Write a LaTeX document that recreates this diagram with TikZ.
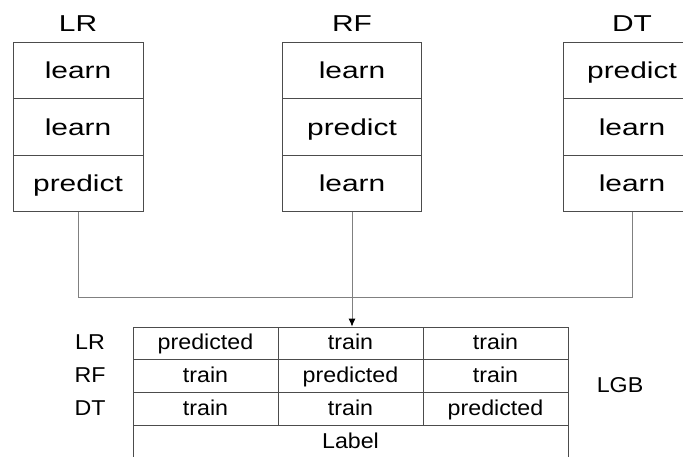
\documentclass[tikz,border=0pt]{standalone}
\usepackage{fontspec}
\setmainfont{Liberation Sans}
\newfontfamily\topfont{Liberation Sans}[FakeStretch=1.3]
\newfontfamily\tabfont{Liberation Sans}[FakeStretch=1.08]
\usetikzlibrary{arrows.meta}
\tikzset{%
  mycell/.style={draw=black!70, line width=0.8pt, minimum height=56.7pt, inner sep=0pt, text height=18pt, text depth=2pt, font=\topfont\fontsize{23}{23}\selectfont},
  mytitle/.style={inner sep=0pt, font=\topfont\fontsize{23}{23}\selectfont},
  mytab/.style={draw=black!70, line width=0.8pt, minimum width=145pt, minimum height=32.7pt, inner sep=0pt, text height=15pt, text depth=2pt, font=\tabfont\fontsize{21.5}{21.5}\selectfont},
  mylabel/.style={inner sep=0pt, text height=15pt, text depth=2pt, font=\tabfont\fontsize{21.5}{21.5}\selectfont},
  myedge/.style={draw=black!50, line width=0.8pt}
}

\begin{document}
\begin{tikzpicture}[x=1pt, y=-1pt]
  \useasboundingbox (0,0) rectangle (683,456);
  \clip (0,0) rectangle (683,456);

% three models, each with three folds
\foreach \name / \x / \w / \a / \b / \c in {LR/78/130/learn/learn/predict, RF/352/139/learn/predict/learn, DT/632/138/predict/learn/learn}{
  \node [mytitle] (t\name) at (\x, 24) {\name};
  \node [mycell, minimum width=\w pt] (\name1) at (\x, 70.5) {\a};
  \node [mycell, minimum width=\w pt] (\name2) at (\x, 127) {\b};
  \node [mycell, minimum width=\w pt] (\name3) at (\x, 183.5) {\c};
}

% stacked table
\foreach \r / \lab / \a / \b / \c in {1/LR/predicted/train/train, 2/RF/train/predicted/train, 3/DT/train/train/predicted}{
  \node [mylabel] (r\r) at (90, 327+32.7*\r-16.35) {\lab};
  \node [mytab] (T\r1) at (205.5, 327+32.7*\r-16.35) {\a};
  \node [mytab] (T\r2) at (350.5, 327+32.7*\r-16.35) {\b};
  \node [mytab] (T\r3) at (495.5, 327+32.7*\r-16.35) {\c};
}
\node [mytab, minimum width=435pt] (lab) at (350.5, 441.5) {Label};
\node [mylabel] (lgb) at (620, 386) {LGB};

% connectors
\coordinate (mid) at (0, 297);
\draw [myedge] (LR3.south) -- (LR3.south |- mid) -- (DT3.south |- mid) -- (DT3.south);
\draw [myedge, -{Latex[length=8pt, width=7pt, color=black]}] (RF3.south) -- (RF3.south |- T12.north);

\end{tikzpicture}
\end{document}
